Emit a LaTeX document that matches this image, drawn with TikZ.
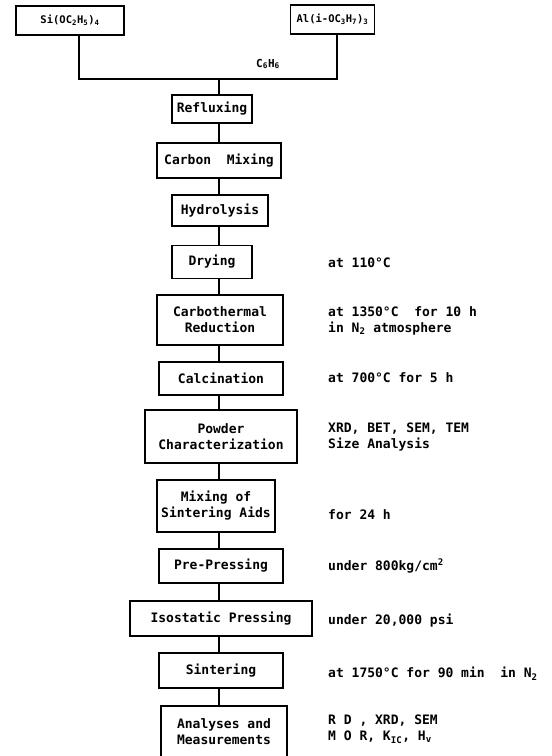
\documentclass[tikz,border=0pt]{standalone}
\usepackage{fontspec}
\setmonofont{DejaVu Sans Mono}
\usetikzlibrary{positioning}

\begin{document}
\begin{tikzpicture}[
  x=1pt, y=-1pt,
  every node/.style={font=\ttfamily\bfseries\fontsize{13}{16}\selectfont, align=center},
  stepbox/.style={draw, line width=1.6pt, inner sep=0pt},
  srcbox/.style ={stepbox, font=\ttfamily\bfseries\fontsize{10.5}{13}\selectfont},
  note/.style   ={anchor=west, align=left, inner sep=0pt,
                  font=\ttfamily\bfseries\fontsize{13}{16}\selectfont},
  flow/.style   ={line width=1.6pt},
]
\useasboundingbox (0,0) rectangle (552,756);

%% ── Starting alkoxides (top) ─────────────────────────────────────────────
\node[srcbox, minimum width=108pt, minimum height=29pt] (si) at (70,20.5)
  {Si(OC\textsubscript{2}H\textsubscript{5})\textsubscript{4}};
\node[srcbox, minimum width=84pt, minimum height=29pt] (al) at (332.5,19.5)
  {Al(i-OC\textsubscript{3}H\textsubscript{7})\textsubscript{3}};
\node[font=\ttfamily\bfseries\fontsize{11}{13}\selectfont] (benz) at (268,64)
  {C\textsubscript{6}H\textsubscript{6}};

\coordinate (spine) at (219,0);
\coordinate (join)  at (219,79);

%% ════════════════════════════════════════════════════════════
%% PROCESS COLUMN   x ≈ 219
%% ════════════════════════════════════════════════════════════
\node[stepbox, minimum width=80pt,  minimum height=28pt] (reflux) at (212,109)   {Refluxing};
\node[stepbox, minimum width=124pt, minimum height=35pt] (carbon) at (219,160.5) {Carbon~ Mixing};
\node[stepbox, minimum width=96pt,  minimum height=31pt] (hydro)  at (220,210.5) {Hydrolysis};
\node[stepbox, minimum width=80pt,  minimum height=33pt] (dry)    at (212,262)   {Drying};
\node[stepbox, minimum width=126pt, minimum height=50pt] (carbo)  at (220,320)
  {Carbothermal\\Reduction};
\node[stepbox, minimum width=124pt, minimum height=33pt] (calc)   at (221,378.5) {Calcination};
\node[stepbox, minimum width=152pt, minimum height=53pt] (powder) at (221,436.5)
  {Powder\\Characterization};
\node[stepbox, minimum width=118pt, minimum height=52pt] (mixaid) at (216,506)
  {Mixing of\\Sintering Aids};
\node[stepbox, minimum width=124pt, minimum height=34pt] (prep)   at (221,566)   {Pre-Pressing};
\node[stepbox, minimum width=182pt, minimum height=35pt] (iso)    at (221,618.5) {Isostatic Pressing};
\node[stepbox, minimum width=124pt, minimum height=35pt] (sinter) at (221,670.5) {Sintering};
\node[stepbox, minimum width=126pt, minimum height=52pt] (anal)   at (224,732)
  {Analyses and\\Measurements};

\draw[flow] ([xshift=9pt]si.south) |- (join) -| ([xshift=4.5pt]al.south);
\draw[flow] (join) -- (reflux.north -| spine);
\draw[flow] (reflux.south -| spine) -- (carbon.north -| spine);
\draw[flow] (carbon.south -| spine) -- (hydro.north -| spine);
\draw[flow] (hydro.south -| spine)  -- (dry.north -| spine);
\draw[flow] (dry.south -| spine)    -- (carbo.north -| spine);
\draw[flow] (carbo.south -| spine)  -- (calc.north -| spine);
\draw[flow] (calc.south -| spine)   -- (powder.north -| spine);
\draw[flow] (powder.south -| spine) -- (mixaid.north -| spine);
\draw[flow] (mixaid.south -| spine) -- (prep.north -| spine);
\draw[flow] (prep.south -| spine)   -- (iso.north -| spine);
\draw[flow] (iso.south -| spine)    -- (sinter.north -| spine);
\draw[flow] (sinter.south -| spine) -- (anal.north -| spine);

%% ════════════════════════════════════════════════════════════
%% CONDITIONS COLUMN   x ≈ 328
%% ════════════════════════════════════════════════════════════
\node[note] (c_dry)    at (328,263)   {at 110°C};
\node[note] (c_carbo)  at (328,320.5) {at 1350°C~ for 10 h\\in N\textsubscript{2} atmosphere};
\node[note] (c_calc)   at (328,378)   {at 700°C for 5 h};
\node[note] (c_powder) at (328,437)   {XRD, BET, SEM, TEM\\Size Analysis};
\node[note] (c_mixaid) at (328,515)   {for 24 h};
\node[note] (c_prep)   at (328,566)   {under 800kg/cm\textsuperscript{2}};
\node[note] (c_iso)    at (328,621)   {under 20,000 psi};
\node[note] (c_sinter) at (328,674)   {at 1750°C for 90 min~ in N\textsubscript{2}};
\node[note] (c_anal)   at (328,729.5) {R D , XRD, SEM\\M O R, K\textsubscript{IC}, H\textsubscript{v}};

\end{tikzpicture}
\end{document}
